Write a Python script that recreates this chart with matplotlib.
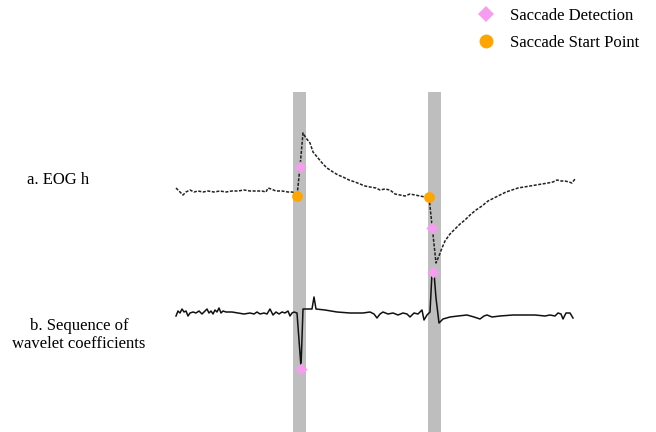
import matplotlib.pyplot as plt
from matplotlib.lines import Line2D

plt.rcParams['font.family'] = ['Liberation Serif', 'DejaVu Serif']

# traces (x in samples, y in screen units, down = larger)
eog_x = [176, 179, 183, 186, 190, 194, 198, 203, 208, 214, 220, 226, 232, 238,
         244, 250, 256, 262, 266, 268, 271, 276, 282, 288, 292, 295, 297,
         300, 303, 306, 310, 313, 318, 323, 327, 333, 338, 343, 349, 355, 360,
         365, 370, 376, 380, 385, 390, 395, 400, 405, 410, 415, 420, 425, 429,
         436, 439, 442, 445, 450, 455, 460, 465, 470, 476, 482, 488, 494, 500,
         506, 512, 518, 524, 530, 536, 542, 548, 553, 557, 561, 565, 569, 572,
         575]
eog_y = [188, 191, 195, 192, 190, 192, 191, 192, 191, 192, 191, 192, 191, 191,
         190, 191, 191, 191, 192, 188, 189, 191, 191, 192, 192, 193, 196,
         167, 133, 138, 143, 152, 158, 164, 168, 172, 175, 177, 180, 182, 184,
         186, 187, 188, 190, 189, 190, 194, 195, 196, 194, 195, 196, 197, 197,
         263, 256, 248, 241, 234, 229, 224, 220, 215, 210, 206, 201, 198, 195,
         192, 190, 188, 187, 186, 185, 184, 183, 182, 180, 181, 181, 182, 183,
         179]

wav_x = [176, 178, 180, 182, 184, 186, 188, 190, 193, 196, 199, 202, 205, 207,
         209, 211, 213, 215, 217, 219, 221, 223, 226, 232, 238, 244, 250, 254,
         257, 260, 264, 267, 270, 273, 276, 279, 282, 285, 288, 290, 292, 294,
         297, 301, 303, 312, 314, 316, 325, 337, 350, 363, 370, 374, 377, 380,
         383, 388, 393, 398, 403, 407, 410, 414, 418, 422, 424, 427, 430, 432,
         434, 436, 439, 443, 450, 458, 467, 474, 480, 484, 487, 492, 500, 513,
         525, 535, 545, 550, 555, 558, 561, 563, 566, 570, 573]
wav_y = [316, 311, 313, 309, 312, 311, 316, 313, 312, 313, 311, 314, 311, 309,
         313, 311, 314, 310, 312, 308, 313, 311, 312, 312, 313, 314, 313, 314,
         312, 314, 313, 314, 309, 315, 312, 314, 312, 313, 311, 316, 313, 312,
         313, 367, 309, 309, 297, 309, 310, 312, 313, 313, 312, 314, 318, 314,
         312, 314, 313, 315, 313, 314, 317, 313, 314, 310, 320, 315, 312, 273,
         273, 298, 323, 319, 317, 316, 315, 317, 319, 316, 315, 317, 316, 315,
         315, 315, 316, 315, 316, 313, 314, 319, 313, 313, 318]

# saccade windows
band_x0 = [293, 428]
band_x1 = [306, 441]
band_top = 92

detect_x = [300, 432, 301, 433]
detect_y = [167, 228, 369, 272]
start_x = [297, 429]
start_y = [196, 197]

fig = plt.figure(figsize=(6.56, 4.32), dpi=100)
ax = fig.add_axes([0, 0, 1, 1])
ax.set_xlim(0, 656)
ax.set_ylim(432, 0)
ax.axis('off')

for x0, x1 in zip(band_x0, band_x1):
    ax.fill_between([x0, x1], band_top, 432, color='#bebebe', lw=0, zorder=1)

ax.plot(eog_x, eog_y, color='#222222', lw=1.1, ls=(0, (2, 1)), zorder=2)
ax.plot(wav_x, wav_y, color='#111111', lw=1.1, zorder=2)

ax.scatter(detect_x, detect_y, marker='D', s=38, color='#f59ef0', lw=0, zorder=3)
ax.scatter(start_x, start_y, marker='o', s=60, color='#ffa500', lw=0, zorder=3)

ax.text(58, 180, 'a. EOG h', fontsize=12, ha='center', va='center')
ax.text(79, 335, 'b. Sequence of\nwavelet coefficients', fontsize=12,
        ha='center', va='center', linespacing=1.2)

handles = [Line2D([], [], ls='none', marker='D', ms=8, color='#f59ef0', mew=0),
           Line2D([], [], ls='none', marker='o', ms=10, color='#ffa500', mew=0)]
ax.legend(handles, ['Saccade Detection', 'Saccade Start Point'],
          loc='upper right', bbox_to_anchor=(0.997, 1.017), frameon=False,
          fontsize=12, handletextpad=0.4, labelspacing=0.67)

fig.savefig('out.png', dpi=100)
